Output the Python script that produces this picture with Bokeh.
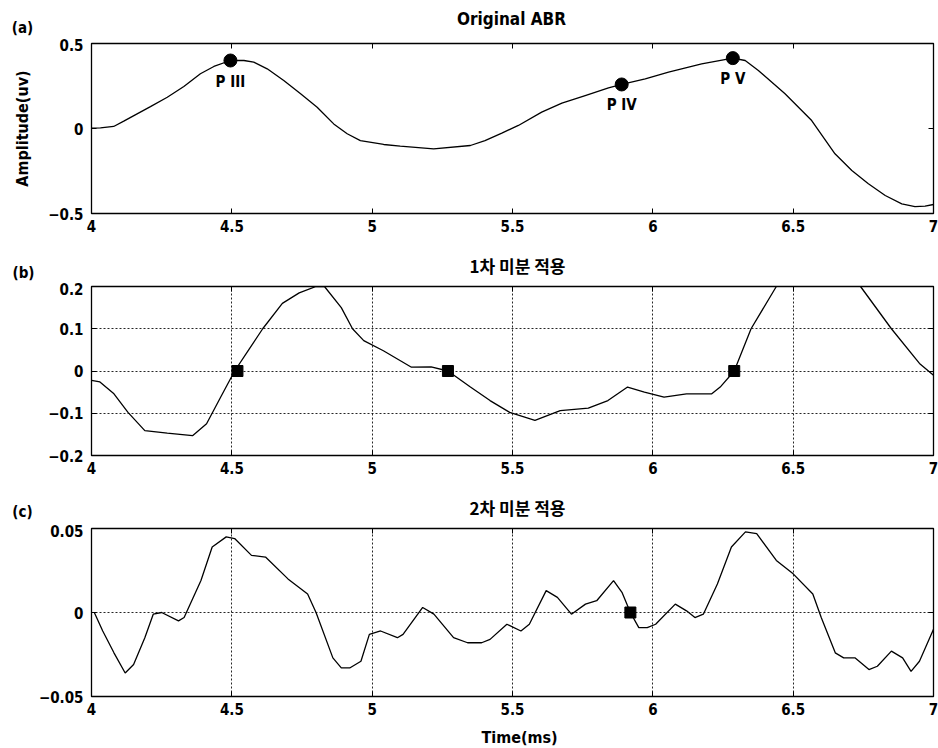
from math import pi
from bokeh.plotting import figure
from bokeh.layouts import column
from bokeh.models import Label, LabelSet, LinearAxis, FixedTicker, Range1d, ColumnDataSource, Title
from bokeh.core.properties import value
from bokeh.embed import file_html
from bokeh.resources import INLINE

FONT = "'DejaVu Sans Condensed', 'DejaVu Sans', sans-serif"
KFONT = "'Noto Sans CJK KR', sans-serif"

# ---------------- data ----------------
x_ticks = [4, 4.5, 5, 5.5, 6, 6.5, 7]
x_tick_labels = ["4", "4.5", "5", "5.5", "6", "6.5", "7"]

panel_tags = ["(a)", "(b)", "(c)"]
panel_titles = ["Original ABR", "1차 미분 적용", "2차 미분 적용"]
y_axis_title = "Amplitude(uv)"
x_axis_title = "Time(ms)"

# (a) Original ABR
abr_t = [4.00, 4.032, 4.079, 4.115, 4.151, 4.21, 4.27, 4.329, 4.388, 4.436, 4.495, 4.543, 4.578,
         4.626, 4.685, 4.745, 4.804, 4.863, 4.911, 4.958, 5.041, 5.10, 5.219, 5.35, 5.402, 5.462,
         5.521, 5.604, 5.676, 5.759, 5.842, 5.889, 5.973, 6.056, 6.174, 6.285, 6.329, 6.376, 6.471,
         6.566, 6.649, 6.709, 6.768, 6.828, 6.887, 6.934, 6.97, 7.0]
abr_v = [0.002, 0.004, 0.012, 0.043, 0.076, 0.129, 0.184, 0.247, 0.322, 0.365, 0.40, 0.40, 0.39,
         0.351, 0.282, 0.204, 0.125, 0.027, -0.031, -0.071, -0.094, -0.104, -0.12, -0.10, -0.071, -0.027,
         0.018, 0.096, 0.149, 0.194, 0.239, 0.259, 0.292, 0.331, 0.38, 0.414, 0.40, 0.341, 0.204,
         0.047, -0.149, -0.247, -0.325, -0.394, -0.443, -0.459, -0.457, -0.447]
peak_t = [4.495, 5.889, 6.285]
peak_v = [0.40, 0.259, 0.414]
peak_names = ["P III", "P IV", "P V"]
a_ticks = [-0.5, 0, 0.5]
a_tick_labels = ["\u22120.5", "0", "0.5"]

# (b) 1st derivative
d1_t = [4.00, 4.03, 4.08, 4.13, 4.19, 4.27, 4.36, 4.41, 4.46, 4.51, 4.56, 4.61, 4.68, 4.74, 4.80,
        4.83, 4.89, 4.93, 4.97, 5.04, 5.14, 5.21, 5.27, 5.35, 5.42, 5.49, 5.58, 5.67, 5.77, 5.84,
        5.91, 5.97, 6.04, 6.12, 6.21, 6.24, 6.29, 6.35, 6.44, 6.50, 6.58, 6.66, 6.74, 6.85, 6.95, 7.0]
d1_v = [-0.022, -0.026, -0.054, -0.098, -0.141, -0.147, -0.153, -0.125, -0.062, 0.0, 0.05, 0.10, 0.16,
        0.185, 0.2, 0.2, 0.15, 0.10, 0.072, 0.048, 0.009, 0.01, 0.0, -0.038, -0.07, -0.098, -0.117,
        -0.094, -0.088, -0.07, -0.038, -0.05, -0.062, -0.054, -0.054, -0.038, 0.0, 0.10, 0.2, 0.25,
        0.27, 0.25, 0.2, 0.10, 0.018, -0.01]
zc1_t = [4.52, 5.27, 6.29]
zc1_v = [0, 0, 0]
b_ticks = [-0.2, -0.1, 0, 0.1, 0.2]
b_tick_labels = ["\u22120.2", "\u22120.1", "0", "0.1", "0.2"]

# (c) 2nd derivative
d2_t = [4.01, 4.04, 4.08, 4.12, 4.15, 4.19, 4.22, 4.25, 4.31, 4.33, 4.39, 4.43, 4.48, 4.51, 4.57,
        4.62, 4.70, 4.77, 4.80, 4.86, 4.89, 4.92, 4.96, 4.99, 5.03, 5.09, 5.11, 5.18, 5.22, 5.29,
        5.34, 5.39, 5.42, 5.48, 5.53, 5.56, 5.62, 5.66, 5.71, 5.76, 5.80, 5.86, 5.89, 5.92, 5.95,
        5.98, 6.01, 6.08, 6.12, 6.15, 6.18, 6.23, 6.28, 6.33, 6.37, 6.44, 6.50, 6.57, 6.60, 6.65,
        6.68, 6.72, 6.77, 6.80, 6.85, 6.89, 6.92, 6.95, 7.0]
d2_v = [0.0, -0.011, -0.024, -0.036, -0.031, -0.015, -0.001, 0.0, -0.005, -0.003, 0.019, 0.039, 0.045,
        0.044, 0.034, 0.033, 0.020, 0.011, 0.0, -0.027, -0.033, -0.033, -0.029, -0.013, -0.011, -0.015,
        -0.013, 0.003, -0.001, -0.015, -0.018, -0.018, -0.016, -0.007, -0.011, -0.007, 0.013, 0.009,
        -0.001, 0.005, 0.007, 0.019, 0.012, 0.0, -0.009, -0.009, -0.007, 0.005, 0.001, -0.003, -0.001,
        0.017, 0.039, 0.048, 0.047, 0.031, 0.023, 0.011, -0.003, -0.024, -0.027, -0.027, -0.034,
        -0.032, -0.023, -0.027, -0.035, -0.029, -0.01]
zc2_t = [5.92]
zc2_v = [0]
c_ticks = [-0.05, 0, 0.05]
c_tick_labels = ["\u22120.05", "0", "0.05"]

W = 938
FRAME_FREE = True


def strip(height):
    """A figure without axes whose frame is the whole canvas; holds free texts."""
    global FRAME_FREE
    s = figure(width=W, height=height, x_range=Range1d(0, 1), y_range=Range1d(0, 1),
               x_axis_type=None, y_axis_type=None, output_backend="svg", toolbar_location=None,
               min_border=0, outline_line_color=None)
    s.grid.grid_line_color = None
    try:
        s.frame_align = False
    except Exception:
        FRAME_FREE = False
    return s


def add_text(p, txt, x, y, font=FONT, size="15px", angle=0.0):
    p.add_layout(Label(x=x, y=y, x_units="canvas", y_units="canvas", text=txt, text_font=font,
                       text_font_style="bold", text_font_size=size, text_align="center",
                       text_baseline="middle", text_color="black", angle=angle))


def add_tag(s, txt, x, y):
    if FRAME_FREE:
        add_text(s, txt, x, y)
    else:
        s.add_layout(Title(text=txt, align="left", offset=x - 10 - 91, text_font=FONT,
                           text_font_style="bold", text_font_size="15px", standoff=0), "below")


def make_fig(height, top, bottom, yr, yticks, ylabels, grid):
    p = figure(width=W, height=height, x_range=Range1d(4, 7), y_range=Range1d(*yr),
               output_backend="svg", toolbar_location=None,
               min_border_left=91, min_border_right=5, min_border_top=top, min_border_bottom=bottom)
    p.background_fill_color = "white"
    p.border_fill_color = "white"
    p.outline_line_color = "black"
    p.outline_line_width = 1.3
    xa = p.xaxis[0]
    ya = p.yaxis[0]
    xa.ticker = FixedTicker(ticks=x_ticks)
    xa.major_label_overrides = dict(zip(x_ticks, x_tick_labels))
    ya.ticker = FixedTicker(ticks=yticks)
    ya.major_label_overrides = dict(zip(yticks, ylabels))
    for ax in (xa, ya):
        ax.major_tick_in = 5
        ax.major_tick_out = 0
        ax.minor_tick_line_color = None
        ax.axis_line_color = "black"
        ax.major_tick_line_color = "black"
        ax.major_label_text_font = FONT
        ax.major_label_text_font_style = "bold"
        ax.major_label_text_font_size = "15px"
        ax.major_label_text_color = "black"
    xa.major_label_standoff = 6
    ya.major_label_standoff = 8
    # inward ticks on top and right edges (no labels)
    top_ax = LinearAxis(ticker=FixedTicker(ticks=x_ticks), major_tick_in=5, major_tick_out=0,
                        minor_tick_line_color=None, axis_line_color=None,
                        major_label_overrides={t: "" for t in x_ticks}, major_label_standoff=0,
                        major_label_text_font_size="1px")
    right_ax = LinearAxis(ticker=FixedTicker(ticks=yticks), major_tick_in=5, major_tick_out=0,
                          minor_tick_line_color=None, axis_line_color=None,
                          major_label_overrides={t: "" for t in yticks}, major_label_standoff=0,
                          major_label_text_font_size="1px")
    p.add_layout(top_ax, "above")
    p.add_layout(right_ax, "right")
    p.xgrid.ticker = FixedTicker(ticks=x_ticks)
    p.ygrid.ticker = FixedTicker(ticks=yticks)
    if grid:
        for g in (p.xgrid[0], p.ygrid[0]):
            g.grid_line_color = "black"
            g.grid_line_dash = "2 2"
            g.grid_line_width = 1
            g.grid_line_alpha = 0.85
    else:
        p.xgrid.grid_line_color = None
        p.ygrid.grid_line_color = None
    return p


# ---- header of (a)
sa = strip(38)
add_tag(sa, panel_tags[0], 22, 27)
add_text(sa, panel_titles[0], 511, 18, size="17px")

# ---- panel (a)
pa = make_fig(202, 5, 27, (-0.5, 0.5), a_ticks, a_tick_labels, grid=False)
pa.line(abr_t, abr_v, line_color="black", line_width=1.3)
pa.scatter(peak_t, peak_v, marker="circle", size=13, color="black")
src_pk = ColumnDataSource(dict(x=peak_t, y=peak_v, t=peak_names))
pa.add_layout(LabelSet(x="x", y="y", text="t", source=src_pk, y_offset=-21,
                       text_font=value(FONT), text_font_style="bold", text_font_size="15px",
                       text_align="center", text_baseline="middle", text_color="black"))
ay = pa.yaxis[0]
ay.axis_label = y_axis_title
ay.axis_label_standoff = 13
ay.axis_label_text_font = FONT
ay.axis_label_text_font_style = "bold"
ay.axis_label_text_font_size = "16px"
ay.axis_label_text_color = "black"

# ---- header of (b)
sb = strip(42)
add_tag(sb, panel_tags[1], 23, 32)
add_text(sb, panel_titles[1], 517, 25, font=KFONT, size="17px")

# ---- panel (b)
pb = make_fig(205, 4, 32, (-0.2, 0.2), b_ticks, b_tick_labels, grid=True)
pb.line(d1_t, d1_v, line_color="black", line_width=1.3)
pb.scatter(zc1_t, zc1_v, marker="square", size=11, color="black")

# ---- header of (c)
sc = strip(37)
add_tag(sc, panel_tags[2], 22, 24)
add_text(sc, panel_titles[2], 517, 20, font=KFONT, size="17px")

# ---- panel (c)
pc = make_fig(198, 4, 26, (-0.05, 0.05), c_ticks, c_tick_labels, grid=True)
pc.line(d2_t, d2_v, line_color="black", line_width=1.3)
pc.scatter(zc2_t, zc2_v, marker="square", size=11, color="black")

# ---- x axis title
sd = strip(26)
add_text(sd, x_axis_title, 519, 15, size="16px")

layout = column(sa, pa, sb, pb, sc, pc, sd, spacing=0)
open("out.html", "w").write(file_html(layout, INLINE))
